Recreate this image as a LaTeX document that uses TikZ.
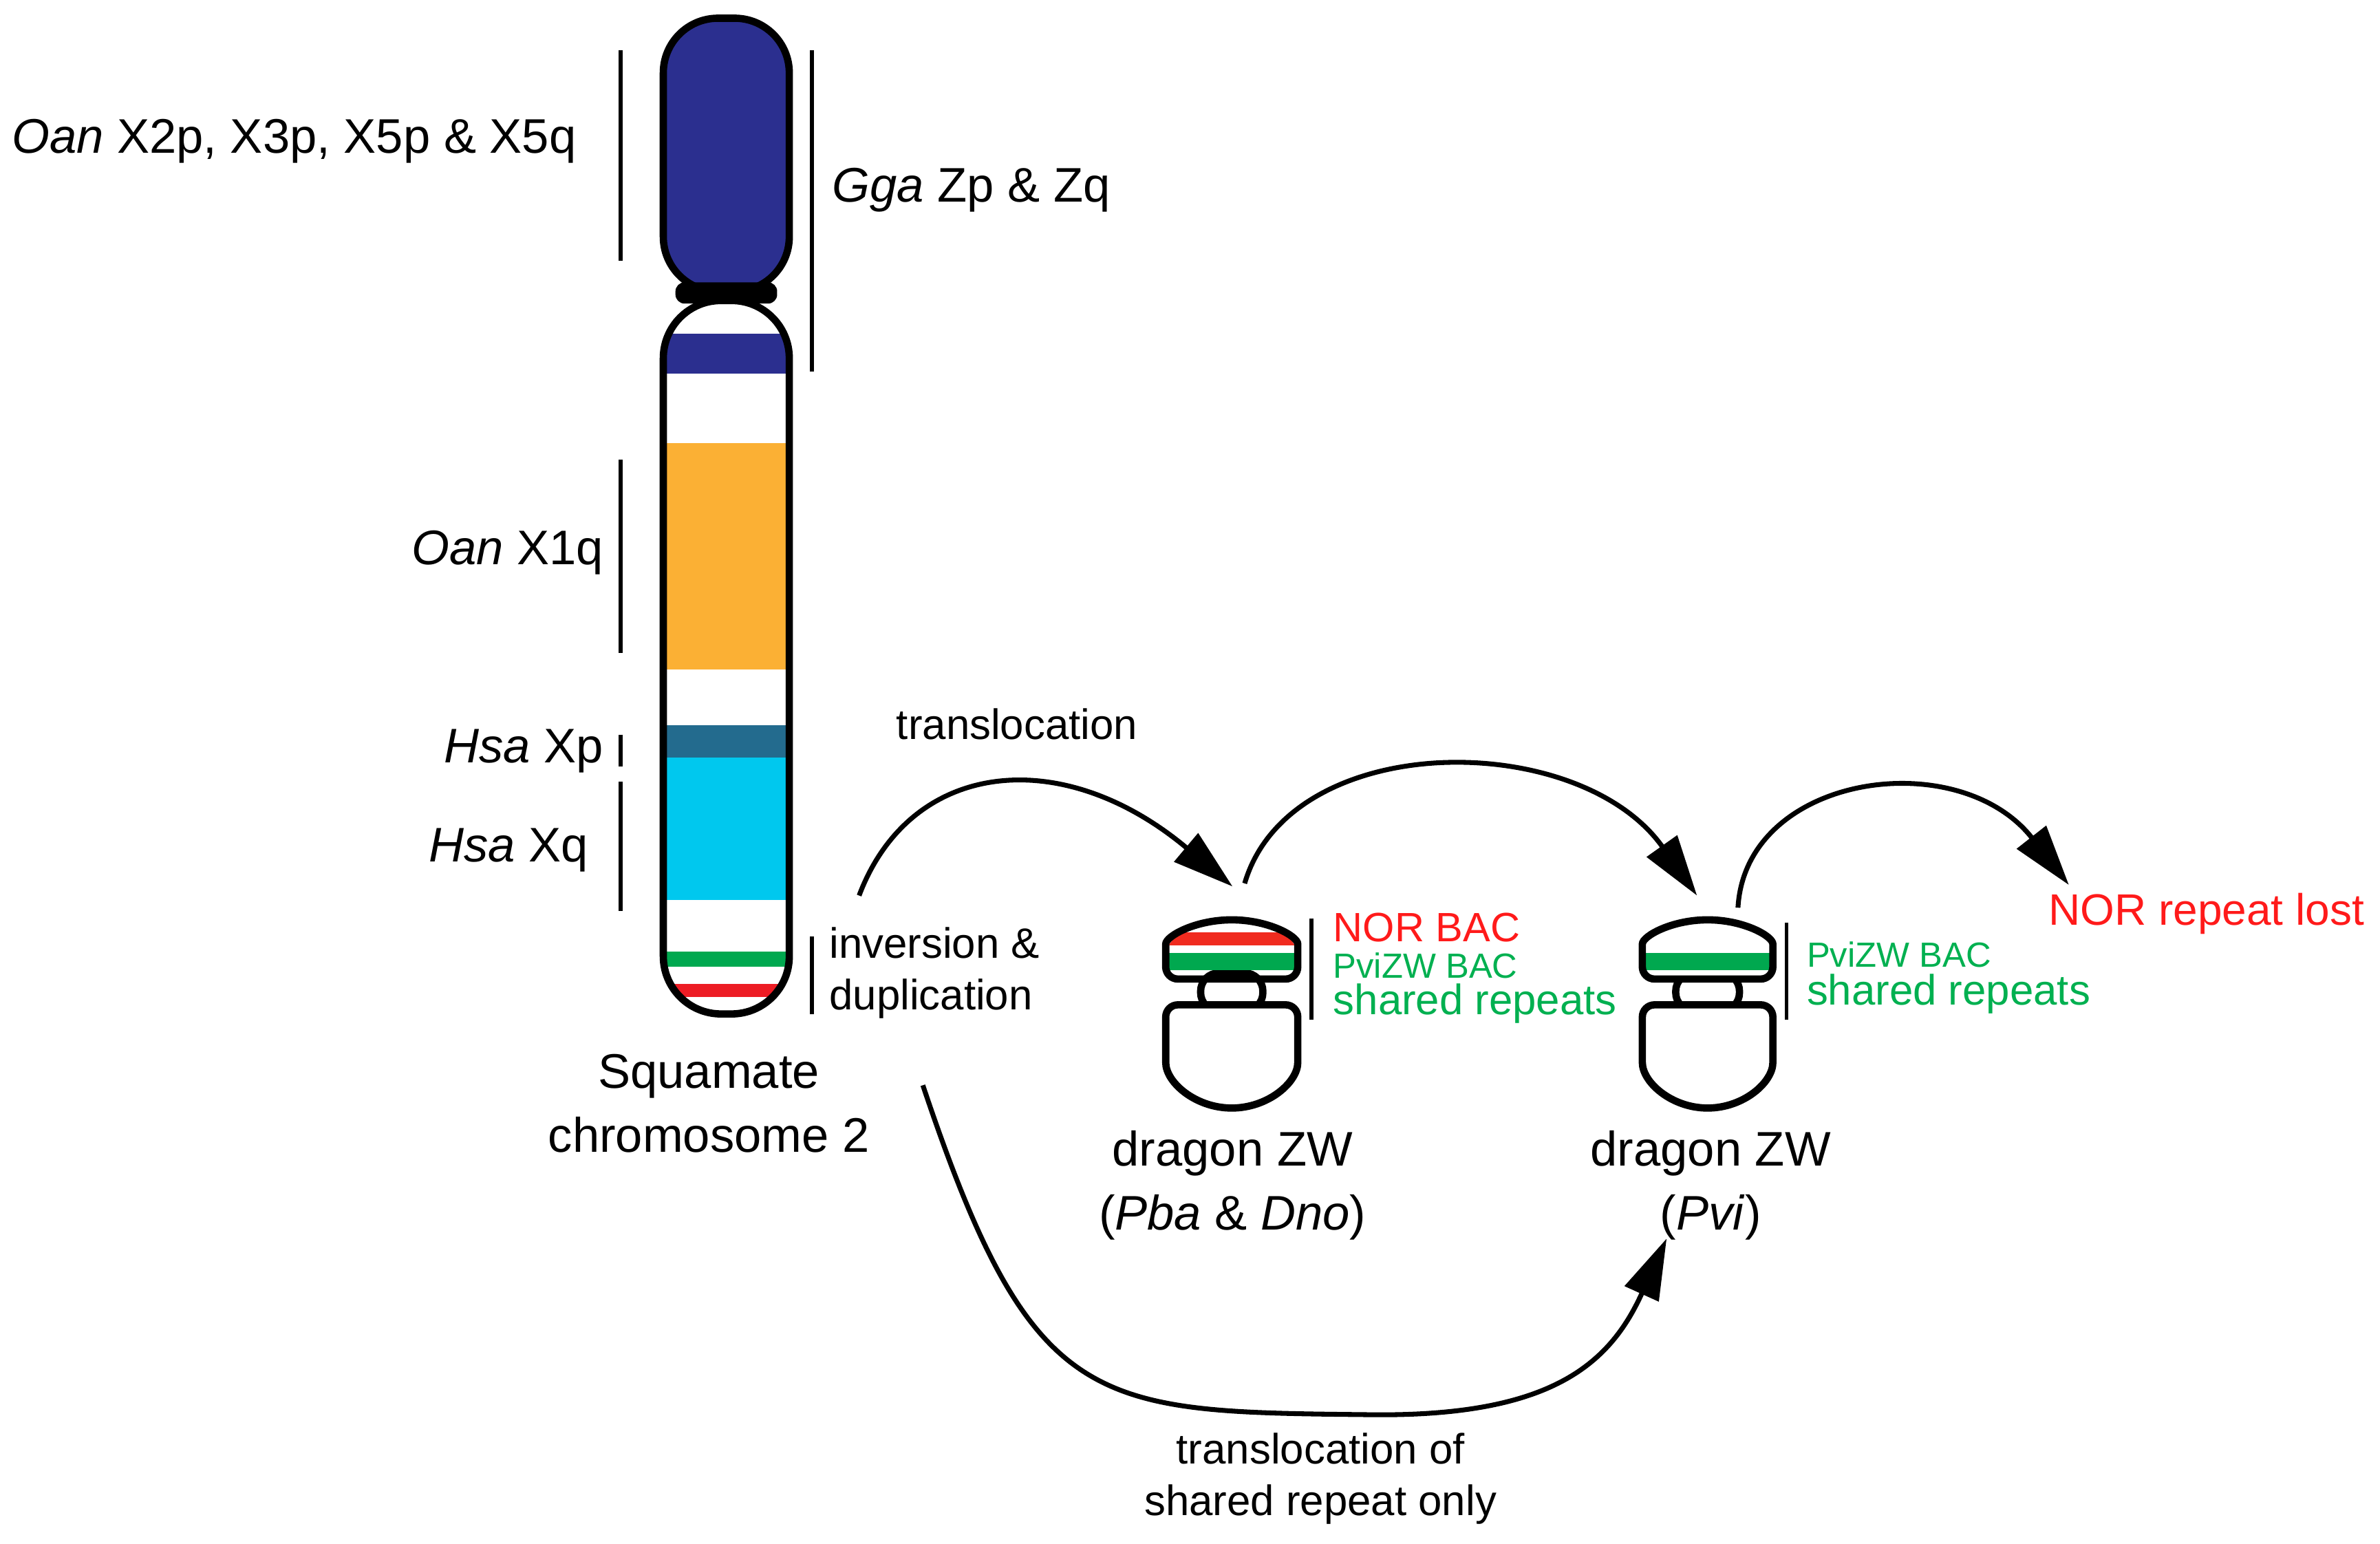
\documentclass[tikz,border=0pt]{standalone}
\usepackage{fontspec}
\setmainfont{Liberation Sans}
\usetikzlibrary{arrows.meta,positioning}
\definecolor{cdblue}{HTML}{2B2F8F}
\definecolor{corange}{HTML}{FBB034}
\definecolor{cteal}{HTML}{236B8E}
\definecolor{ccyan}{HTML}{00C8EE}
\definecolor{cgreen}{HTML}{00A84F}
\definecolor{cred}{HTML}{ED1C24}
\definecolor{tgreen}{HTML}{00B050}
\definecolor{tred}{HTML}{FF1A1A}
\tikzset{
  outline/.style={line width=2.4pt},
  bar/.style={line width=1.3pt},
  lab/.style={font=\fontsize{16}{18}\selectfont, inner sep=0pt},
  small/.style={font=\fontsize{14}{16}\selectfont, inner sep=0pt},
  move/.style={line width=1.6pt, -{Triangle[length=20pt,width=12pt]}},
}
\begin{document}
\begin{tikzpicture}[x=0.5pt,y=-0.5pt]
\useasboundingbox (0,0) rectangle (1568,1017);

% chromosome 2
\fill[cdblue,rounded corners=18pt] (437,12) rectangle (520,192);
\draw[outline,rounded corners=18pt] (437,12) rectangle (520,192);
\begin{scope}
\clip[rounded corners=19pt] (437,198) rectangle (520,668);
\fill[cdblue] (437,220) rectangle (520,246);
\fill[corange] (437,292) rectangle (520,441);
\fill[cteal] (437,478) rectangle (520,499);
\fill[ccyan] (437,499) rectangle (520,593);
\fill[cgreen] (437,627) rectangle (520,637);
\fill[cred] (437,648) rectangle (520,657);
\end{scope}
\draw[outline,rounded corners=19pt] (437,198) rectangle (520,668);
\fill[black,rounded corners=3pt] (445,186) rectangle (512,200);

% bars
\draw[bar] (409,33) -- (409,172);
\draw[bar] (535,33) -- (535,245);
\draw[bar] (409,303) -- (409,430);
\draw[bar] (409,484) -- (409,505);
\draw[bar] (409,515) -- (409,600);
\draw[bar] (535,617) -- (535,668);

\node[lab,anchor=east] (oanx) at (380,93) {\textit{Oan} X2p, X3p, X5p \& X5q};
\node[lab,anchor=west] (gga) at (548,125) {\textit{Gga} Zp \& Zq};
\node[lab,anchor=east] (oanq) at (398,364) {\textit{Oan} X1q};
\node[lab,anchor=east] (hsap) at (398,495) {\textit{Hsa} Xp};
\node[lab,anchor=east] (hsaq) at (388,560) {\textit{Hsa} Xq};
\node[small,anchor=west,align=left] (inv) at (546,641) {inversion \&\\[1pt]duplication};
\node[lab,align=center] (sq2) at (467,727) {Squamate\\[3pt]chromosome 2};
\node[small] (trans) at (670,477) {translocation};

% dragon ZW, Pba & Dno
\draw[outline,rounded corners=6pt] (791,641) rectangle (832,666);
\begin{scope}
\clip (768,645) -- (768,630) arc[start angle=180,end angle=360,x radius=43.5,y radius=24] -- (855,645) -- cycle;
\fill[cred!85!orange] (768,614) rectangle (855,623);
\fill[cgreen] (768,628) rectangle (855,639);
\end{scope}
\draw[outline,rounded corners=4pt] (768,645) -- (768,630) arc[start angle=180,end angle=360,x radius=43.5,y radius=24] -- (855,645) -- cycle;
\draw[outline,fill=white,rounded corners=4pt] (768,662) -- (855,662) -- (855,692) arc[start angle=0,end angle=180,x radius=43.5,y radius=38] -- cycle;
\draw[bar] (864,605) -- (864,672);
\node[font=\fontsize{13.5}{15}\selectfont,inner sep=0pt,anchor=west,text=tred] (nor1) at (878,611) {NOR BAC};
\node[font=\fontsize{11.5}{13}\selectfont,inner sep=0pt,anchor=west,text=tgreen] (pvi1) at (878,636) {PviZW BAC};
\node[small,anchor=west,text=tgreen] (sh1) at (878,661) {shared repeats};
\node[lab,align=center] (dz1) at (812,781) {dragon ZW\\[3pt](\textit{Pba} \& \textit{Dno})};

% dragon ZW, Pvi
\draw[outline,rounded corners=6pt] (1104,641) rectangle (1146,666);
\begin{scope}
\clip (1082,645) -- (1082,630) arc[start angle=180,end angle=360,x radius=43,y radius=24] -- (1168,645) -- cycle;
\fill[white] (1082,600) rectangle (1168,645);
\fill[cgreen] (1082,628) rectangle (1168,639);
\end{scope}
\draw[outline,rounded corners=4pt] (1082,645) -- (1082,630) arc[start angle=180,end angle=360,x radius=43,y radius=24] -- (1168,645) -- cycle;
\draw[outline,fill=white,rounded corners=4pt] (1082,662) -- (1168,662) -- (1168,692) arc[start angle=0,end angle=180,x radius=43,y radius=38] -- cycle;
\draw[bar] (1177,608) -- (1177,672);
\node[font=\fontsize{11.5}{13}\selectfont,inner sep=0pt,anchor=west,text=tgreen] (pvi2) at (1190,629) {PviZW BAC};
\node[small,anchor=west,text=tgreen] (sh2) at (1190,655) {shared repeats};
\node[lab,align=center] (dz2) at (1127,781) {dragon ZW\\[3pt](\textit{Pvi})};

\node[font=\fontsize{14.5}{16}\selectfont,inner sep=0pt,anchor=east,text=tred] (lost) at (1558,602) {NOR repeat lost};
\node[small,align=center] (tsh) at (870,974) {translocation of\\[1pt]shared repeat only};

% arrows
\coordinate (a1s) at (566,590);
\coordinate (a1e) at (812,584);
\coordinate (a2s) at (820,582);
\coordinate (a2e) at (1118,590);
\coordinate (a3s) at (1145,598);
\coordinate (a3e) at (1363,583);
\coordinate (a4s) at (608,715);
\coordinate (a4e) at (1098,816);
\draw[move] (a1s) .. controls (600,500) and (700,490) .. (a1e);
\draw[move] (a2s) .. controls (850,480) and (1040,480) .. (a2e);
\draw[move] (a3s) .. controls (1150,510) and (1290,490) .. (a3e);
\draw[move] (a4s) .. controls (680,930) and (720,930) .. (900,932) .. controls (1020,934) and (1060,900) .. (a4e);
\end{tikzpicture}
\end{document}
